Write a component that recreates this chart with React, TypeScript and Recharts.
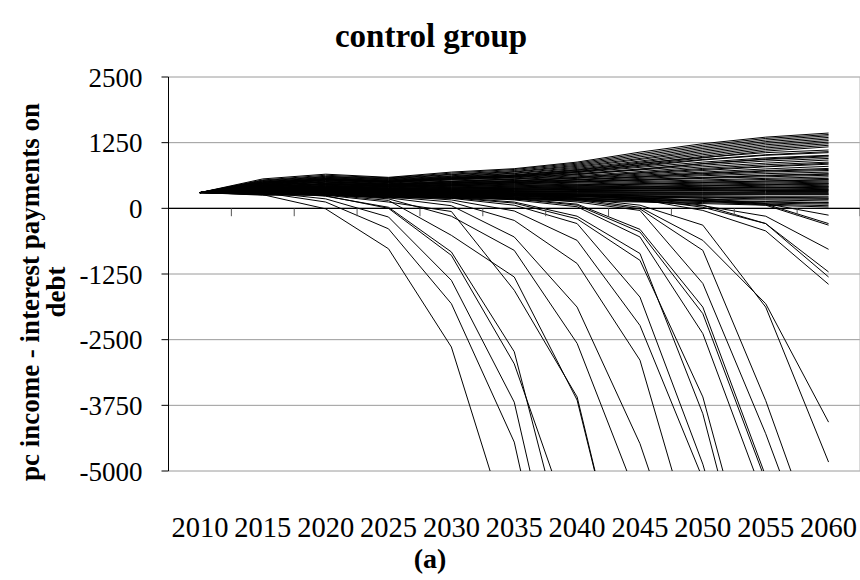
import React from 'react';
import { LineChart, Line, XAxis, YAxis, CartesianGrid, ReferenceLine } from 'recharts';

const years = [2010, 2015, 2020, 2025, 2030, 2035, 2040, 2045, 2050, 2055, 2060];
const yTicks = [-5000, -3750, -2500, -1250, 0, 1250, 2500];

// Series that keep growing until 2060
const growingSeries: (number | null)[][] = [
  [300, 560, 650, 590, 690, 755, 880, 1070, 1230, 1355, 1433],
  [300, 540, 630, 580, 670, 740, 860, 1040, 1200, 1330, 1405],
  [300, 530, 610, 570, 650, 720, 840, 1010, 1170, 1300, 1380],
  [300, 520, 600, 560, 640, 700, 820, 980, 1140, 1270, 1350],
  [300, 500, 590, 550, 620, 690, 800, 950, 1110, 1240, 1320],
  [300, 510, 580, 540, 610, 670, 780, 930, 1080, 1210, 1290],
  [300, 490, 570, 530, 600, 660, 760, 900, 1050, 1180, 1260],
  [300, 480, 560, 520, 590, 640, 740, 880, 1020, 1150, 1230],
  [300, 470, 550, 520, 580, 630, 720, 850, 990, 1120, 1200],
  [300, 500, 560, 510, 570, 620, 700, 830, 960, 1090, 1170],
  [300, 470, 560, 510, 580, 630, 730, 860, 970, 1060, 1110],
  [300, 450, 540, 500, 560, 610, 700, 820, 930, 1020, 1080],
  [300, 480, 550, 500, 560, 600, 690, 800, 920, 1010, 1060],
  [300, 460, 540, 500, 560, 600, 680, 780, 880, 960, 1010],
  [300, 430, 500, 460, 510, 560, 640, 740, 850, 940, 1000],
  [300, 450, 530, 490, 550, 590, 660, 750, 850, 930, 980],
  [300, 440, 520, 480, 540, 580, 650, 730, 820, 900, 950],
  [300, 430, 510, 470, 520, 560, 620, 700, 790, 860, 920],
  [300, 420, 500, 460, 510, 550, 600, 680, 760, 830, 880],
  [300, 400, 470, 440, 480, 520, 590, 670, 740, 800, 860],
  [300, 440, 500, 450, 500, 530, 580, 650, 720, 790, 840],
  [300, 410, 480, 450, 490, 520, 570, 630, 690, 750, 800],
  [300, 420, 470, 440, 480, 510, 550, 610, 670, 720, 760],
  [300, 420, 460, 420, 450, 490, 540, 600, 660, 710, 740],
  [300, 400, 460, 430, 470, 500, 540, 590, 640, 690, 720],
  [300, 390, 450, 420, 460, 490, 520, 570, 620, 660, 690],
  [300, 410, 460, 420, 450, 480, 510, 550, 590, 630, 660],
  [300, 380, 430, 400, 430, 460, 500, 540, 580, 620, 650],
  [300, 380, 440, 410, 440, 470, 500, 530, 570, 600, 630],
  [300, 390, 430, 400, 430, 450, 480, 510, 540, 570, 600],
  [300, 370, 420, 390, 420, 440, 460, 490, 520, 550, 570],
  [300, 360, 400, 370, 390, 410, 430, 460, 490, 520, 550],
  [300, 380, 420, 380, 410, 430, 450, 470, 500, 520, 540],
  [300, 360, 410, 380, 400, 420, 440, 460, 480, 500, 520],
  [300, 370, 400, 370, 390, 400, 420, 440, 460, 480, 500],
  [300, 350, 400, 360, 380, 390, 410, 420, 440, 460, 480],
  [300, 340, 380, 350, 370, 380, 400, 410, 430, 450, 470],
  [300, 360, 390, 360, 370, 380, 390, 400, 420, 440, 460],
  [300, 340, 380, 350, 360, 370, 380, 390, 400, 420, 440],
  [300, 350, 380, 340, 350, 360, 370, 380, 390, 400, 420],
  [300, 330, 360, 330, 340, 350, 360, 370, 380, 390, 410],
  [300, 330, 370, 340, 350, 350, 360, 370, 380, 390, 400],
  [300, 340, 360, 330, 340, 340, 350, 350, 360, 370, 380],
  [300, 320, 350, 320, 330, 330, 340, 340, 350, 350, 360],
  [300, 310, 330, 300, 310, 320, 320, 330, 340, 350, 350],
  [300, 330, 350, 310, 320, 320, 320, 330, 330, 340, 340],
  [300, 310, 340, 310, 310, 310, 310, 310, 310, 320, 320],
  [300, 320, 330, 300, 300, 300, 300, 300, 300, 300, 300],
  [300, 300, 320, 290, 290, 290, 280, 280, 280, 280, 280],
  [300, 290, 300, 270, 280, 280, 270, 270, 270, 270, 270],
  [300, 310, 310, 280, 280, 270, 270, 260, 260, 260, 260],
  [300, 290, 300, 270, 270, 260, 250, 240, 240, 230, 230],
  [300, 300, 300, 260, 260, 250, 240, 230, 220, 210, 200],
  [300, 270, 270, 240, 240, 230, 220, 220, 210, 200, 190],
  [300, 280, 290, 250, 250, 240, 220, 210, 200, 180, 170],
  [300, 290, 280, 240, 230, 220, 200, 190, 170, 160, 140],
  [300, 270, 280, 230, 220, 200, 190, 170, 150, 130, 110],
  [300, 250, 250, 220, 210, 200, 180, 160, 140, 120, 100],
  [300, 280, 270, 220, 210, 190, 170, 150, 130, 100, 80],
  [300, 260, 260, 210, 200, 180, 160, 130, 110, 80, 50],
  [300, 270, 250, 200, 190, 170, 140, 120, 90, 60, 25],
];

// Series that turn negative late
const decliningSeries: (number | null)[][] = [
  [300, 360, 340, 320, 300, 270, 230, 170, -40, -430, -1446],
  [300, 370, 350, 330, 310, 280, 240, 180, 20, -290, -1307],
  [300, 380, 360, 340, 320, 290, 260, 200, 60, -290, -1211],
  [300, 350, 330, 300, 280, 250, 200, 140, 50, -150, -780],
  [300, 340, 330, 310, 290, 270, 240, 200, 140, 60, -320],
  [300, 330, 320, 300, 290, 270, 240, 200, 150, 80, -290],
  [300, 350, 340, 320, 310, 290, 270, 240, 190, 90, -130],
];

// Series that collapse below -5000
const collapsingSeries: (number | null)[][] = [
  [300, 260, -10, -770, -2640, -6470, null, null, null, null, null],
  [300, 300, 120, -390, -1815, -4450, -9800, null, null, null, null],
  [300, 310, 180, -165, -1370, -3690, -8900, null, null, null, null],
  [300, 320, 230, 20, -830, -2730, -7370, null, null, null, null],
  [300, 330, 240, 0, -895, -2960, -6380, null, null, null, null],
  [300, 340, 260, 150, -514, -1307, -3650, -8500, null, null, null],
  [300, 330, 250, 120, -60, -1560, -3590, -8540, null, null, null],
  [300, 340, 270, 180, -150, -800, -2570, -5640, null, null, null],
  [300, 350, 280, 200, 50, -545, -1880, -4480, -8000, null, null],
  [300, 350, 290, 220, 120, -230, -1050, -2890, -7000, null, null],
  [300, 360, 300, 240, 160, -50, -610, -2230, -5150, null, null],
  [300, 360, 300, 250, 190, 60, -290, -1690, -4870, -9000, null],
  [300, 370, 310, 260, 200, 100, -200, -990, -3590, -8000, null],
  [300, 370, 320, 270, 210, 120, -150, -860, -3910, -8500, null],
  [300, 380, 320, 280, 230, 160, 30, -545, -2385, -5600, null],
  [300, 380, 330, 290, 240, 180, 60, -450, -2005, -5190, null],
  [300, 390, 330, 290, 250, 190, 80, -400, -1880, -5100, null],
  [300, 390, 340, 300, 260, 210, 120, -40, -1430, -4290, -7500],
  [300, 400, 350, 310, 270, 220, 150, -10, -800, -3660, -7000],
  [300, 400, 350, 320, 280, 240, 170, 20, -610, -1815, -4070],
  [300, 410, 360, 320, 290, 250, 190, 60, -320, -1880, -4830],
];

const allSeries = [...growingSeries, ...decliningSeries, ...collapsingSeries];

const data = years.map((yr, i) => {
  const row: Record<string, number | null> = { year: yr };
  allSeries.forEach((s, k) => {
    row['s' + k] = s[i];
  });
  return row;
});

const boundaries = years.map((y) => y + 2.5);
const tickLen = 150;

const serif = '"Liberation Serif", "Times New Roman", serif';

export default function App() {
  return (
    <div style={{ position: 'absolute', left: 0, top: 0, width: 860, height: 580, background: '#fff' }}>
      <LineChart width={860} height={580} data={data} margin={{ top: 77, right: 0, bottom: 49, left: 0 }}>
        <CartesianGrid horizontal={true} vertical={false} stroke="#9a9a9a" />
        <XAxis
          dataKey="year"
          type="number"
          domain={[2007.5, 2062.5]}
          ticks={years}
          interval={0}
          axisLine={false}
          tickLine={false}
          tickSize={0}
          tickMargin={46}
          height={60}
          tick={{ fontFamily: serif, fontSize: 28.5, fill: '#000' }}
        />
        <YAxis
          type="number"
          domain={[-5000, 2500]}
          ticks={yTicks}
          allowDataOverflow={true}
          width={168.5}
          axisLine={{ stroke: '#000' }}
          tickLine={{ stroke: '#000' }}
          tickSize={7}
          tickMargin={19}
          tick={{ fontFamily: serif, fontSize: 27, fill: '#000' }}
        />
        <ReferenceLine x={2062.5} stroke="#b5b5b5" />
        {allSeries.map((_, k) => (
          <Line
            key={k}
            dataKey={'s' + k}
            stroke="#000"
            strokeWidth={1}
            dot={false}
            activeDot={false}
            isAnimationActive={false}
          />
        ))}
        <ReferenceLine y={0} stroke="#000" strokeWidth={1.2} />
        {boundaries.map((b) => (
          <ReferenceLine
            key={b}
            segment={[{ x: b, y: 0 }, { x: b, y: -tickLen }]}
            stroke="#555"
          />
        ))}
      </LineChart>
      <svg width={860} height={580} style={{ position: 'absolute', left: 0, top: 0, pointerEvents: 'none' }}>
        <text x={431} y={36} textAnchor="middle" dominantBaseline="central" fontFamily={serif} fontWeight="bold" fontSize={33}>
          control group
        </text>
        <g transform="translate(30,292) rotate(-90)">
          <text x={0} y={0} textAnchor="middle" dominantBaseline="central" fontFamily={serif} fontWeight="bold" fontSize={27}>
            pc income - interest payments on
          </text>
        </g>
        <g transform="translate(56,292) rotate(-90)">
          <text x={0} y={0} textAnchor="middle" dominantBaseline="central" fontFamily={serif} fontWeight="bold" fontSize={27}>
            debt
          </text>
        </g>
        <text x={430} y={558} textAnchor="middle" dominantBaseline="central" fontFamily={serif} fontWeight="bold" fontSize={28}>
          (a)
        </text>
      </svg>
    </div>
  );
}
